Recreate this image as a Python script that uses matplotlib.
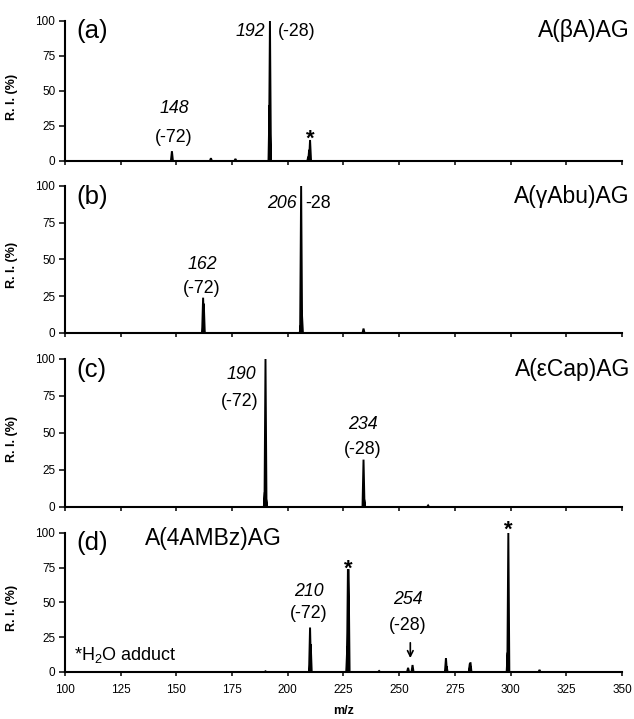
import matplotlib
matplotlib.use('Agg')
import matplotlib.pyplot as plt
import numpy as np

plt.rcParams['font.family'] = ['Liberation Sans', 'DejaVu Sans']
plt.rcParams['mathtext.fontset'] = 'custom'
plt.rcParams['mathtext.rm'] = 'Liberation Sans'
plt.rcParams['mathtext.it'] = 'Liberation Sans:italic'

# peak lists (m/z, relative intensity %)
mz_a = [148, 165.5, 176.5, 191.8, 192, 209.2, 209.6, 210]
ri_a = [7, 2, 1.5, 40, 100, 3, 8, 15]

mz_b = [162, 162.3, 205.8, 206, 206.3, 234]
ri_b = [24, 20, 5, 100, 15, 3]

mz_c = [189.7, 190, 190.3, 234, 234.3, 263]
ri_c = [10, 100, 5, 32, 5, 1]

mz_d = [190, 210, 210.3, 226.7, 227, 227.3, 241, 254, 256, 271, 271.3,
        281.7, 282, 298.7, 299, 313]
ri_d = [0.5, 32, 20, 18, 74, 74, 0.7, 3, 5, 10, 4, 6, 7, 14, 100, 1.5]

names = ['(a)', '(b)', '(c)', '(d)']
compounds = ['A(βA)AG', 'A(γAbu)AG', 'A(εCap)AG', 'A(4AMBz)AG']
x_ticks = [100, 125, 150, 175, 200, 225, 250, 275, 300, 325, 350]
y_ticks = [0, 25, 50, 75, 100]


def profile(mz, ri, w=0.45):
    xs, ys = [100], [0]
    for m, r in sorted(zip(mz, ri)):
        xs += [m - w, m, m + w]
        ys += [0, r, 0]
    xs.append(350)
    ys.append(0)
    return np.array(xs), np.array(ys)


fig = plt.figure(figsize=(6.34, 7.19), dpi=100)
rects = [
    [0.1025, 0.7761, 0.8785, 0.1947],
    [0.1025, 0.5369, 0.8785, 0.2045],
    [0.1025, 0.2949, 0.8785, 0.2058],
    [0.1025, 0.0654, 0.8785, 0.1933],
]
data = [(mz_a, ri_a), (mz_b, ri_b), (mz_c, ri_c), (mz_d, ri_d)]
axes = []
for i, r in enumerate(rects):
    ax = fig.add_axes(r)
    x, y = profile(*data[i])
    ax.plot(x, y, color='black', lw=1.4, solid_joinstyle='miter')
    ax.set_xlim(100, 350)
    ax.set_ylim(0, 100)
    ax.set_xticks(x_ticks)
    ax.set_yticks(y_ticks)
    for s in ['top', 'right']:
        ax.spines[s].set_visible(False)
    for s in ['left', 'bottom']:
        ax.spines[s].set_linewidth(1.5)
    ax.tick_params(axis='y', direction='out', length=4, width=1.1,
                   labelsize=8.5, pad=3)
    ax.tick_params(axis='x', direction='out', length=3, width=1.1,
                   labelsize=8.5, pad=6)
    ax.set_ylabel('R. I. (%)', fontsize=9, fontweight='bold')
    ax.yaxis.set_label_coords(-0.0844, 0.46)
    if i < 3:
        ax.set_xticklabels([])
    ax.text(105.2, 87.5, names[i], fontsize=18.5, va='baseline', ha='left')
    if i < 3:
        ax.text(353.6, 88.3, compounds[i], fontsize=16.5, va='baseline',
                ha='right')
    axes.append(ax)

ax = axes[3]
ax.set_xlabel('m/z', fontsize=9, fontweight='bold', labelpad=6)
ax.set_xticklabels([str(t) for t in x_ticks])
ax.text(136, 91.4, compounds[3], fontsize=16.5, va='baseline', ha='left')

fs = 12.8
star = dict(fontsize=16, fontweight='bold', ha='center', va='baseline',
            clip_on=False)
# (a)
a = axes[0]
a.text(190, 92.8, '192', style='italic', fontsize=fs, ha='right', va='center')
a.text(195.5, 92.8, '(-28)', fontsize=fs, ha='left', va='center')
a.text(149.2, 37.3, '148', style='italic', fontsize=fs, ha='center', va='center')
a.text(149, 16.8, '(-72)', fontsize=fs, ha='center', va='center')
a.text(210, 11.8, '*', **star)
# (b)
b = axes[1]
b.text(204, 88.2, '206', style='italic', fontsize=fs, ha='right', va='center')
b.text(208, 88.2, '-28', fontsize=fs, ha='left', va='center')
b.text(161.5, 46.7, '162', style='italic', fontsize=fs, ha='center', va='center')
b.text(161.5, 30.4, '(-72)', fontsize=fs, ha='center', va='center')
# (c)
c = axes[2]
c.text(186, 89.7, '190', style='italic', fontsize=fs, ha='right', va='center')
c.text(187, 71.2, '(-72)', fontsize=fs, ha='right', va='center')
c.text(233.7, 55.4, '234', style='italic', fontsize=fs, ha='center', va='center')
c.text(233.7, 38.5, '(-28)', fontsize=fs, ha='center', va='center')
# (d)
d = axes[3]
d.text(209.5, 57.8, '210', style='italic', fontsize=fs, ha='center', va='center')
d.text(209.5, 42.2, '(-72)', fontsize=fs, ha='center', va='center')
d.text(254, 51.8, '254', style='italic', fontsize=fs, ha='center', va='center')
d.text(254, 33.8, '(-28)', fontsize=fs, ha='center', va='center')
d.text(227, 70, '*', **star)
d.text(299, 97.7, '*', **star)
d.annotate('', xy=(255, 8), xytext=(255, 23),
           arrowprops=dict(arrowstyle='->', color='black', lw=1.2))
d.text(104, 8.6, '*H$_2$O adduct', fontsize=13, ha='left', va='baseline')

fig.savefig('out.png', dpi=100)
